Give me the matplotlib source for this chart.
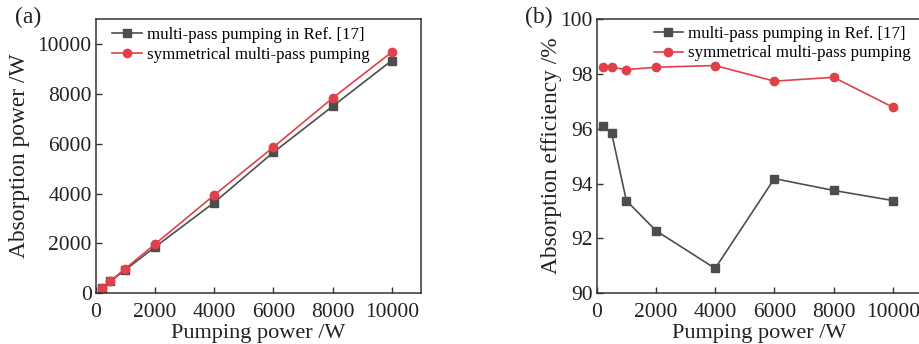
import matplotlib
matplotlib.use('Agg')
import matplotlib.pyplot as plt
import numpy as np

plt.rcParams['font.family'] = ['Liberation Serif', 'DejaVu Serif']

pump = [200, 500, 1000, 2000, 4000, 6000, 8000, 10000]

# absorption efficiency, %
eff_ref = [96.1, 95.86, 93.38, 92.28, 90.9, 94.18, 93.75, 93.38]
eff_sym = [98.25, 98.25, 98.16, 98.25, 98.31, 97.74, 97.88, 96.79]

# absorption power, W
abs_ref = [192, 479, 934, 1846, 3636, 5652, 7500, 9340]
abs_sym = [196, 491, 982, 1965, 3932, 5862, 7832, 9680]

lab_ref = 'multi-pass pumping in Ref. [17]'
lab_sym = 'symmetrical multi-pass pumping'

gray = '#4d4d4d'
red = '#e0404a'

fig = plt.figure(figsize=(9.2, 3.44), dpi=100)
ax1 = fig.add_axes([0.104, 0.148, 0.354, 0.796])
ax2 = fig.add_axes([0.6486, 0.148, 0.354, 0.796])

for ax in (ax1, ax2):
    for s in ax.spines.values():
        s.set_color('#333333')
        s.set_linewidth(1.1)
    ax.tick_params(direction='in', length=4, width=1, colors='#333333',
                   labelsize=15.5, labelcolor='#222222', pad=3)
    ax.tick_params(axis='x', pad=7)
    ax.set_xlim(0, 11000)
    ax.set_xticks([0, 2000, 4000, 6000, 8000, 10000])
    ax.set_xlabel('Pumping power /W', fontsize=16, color='#222222', labelpad=1.8)

leg_kw = dict(loc='upper left', frameon=False, fontsize=12.2, handlelength=1.75,
              handletextpad=0.3, labelspacing=0.2, borderaxespad=0.0)

ax1.plot(pump, abs_ref, color=gray, marker='s', ms=6, lw=1.2, label=lab_ref)
ax1.plot(pump, abs_sym, color=red, marker='o', ms=6, lw=1.2, label=lab_sym)
ax1.set_ylim(0, 11000)
ax1.set_yticks([0, 2000, 4000, 6000, 8000, 10000])
ax1.set_ylabel('Absorption power /W', fontsize=16.8, color='#222222', labelpad=5)
ax1.legend(bbox_to_anchor=(0.03, 0.995), **leg_kw)

ax2.plot(pump, eff_ref, color=gray, marker='s', ms=6, lw=1.2, label=lab_ref)
ax2.plot(pump, eff_sym, color=red, marker='o', ms=6, lw=1.2, label=lab_sym)
ax2.set_ylim(90, 100)
ax2.set_yticks([90, 92, 94, 96, 98, 100])
ax2.set_ylabel('Absorption efficiency /%', fontsize=16.8, color='#222222', labelpad=-1.5)
ax2.legend(bbox_to_anchor=(0.154, 1.0), **leg_kw)

fig.text(0.016, 0.95, '(a)', fontsize=17, color='#222222', va='center')
fig.text(0.571, 0.95, '(b)', fontsize=17, color='#222222', va='center')

fig.savefig('out.png', dpi=100)
